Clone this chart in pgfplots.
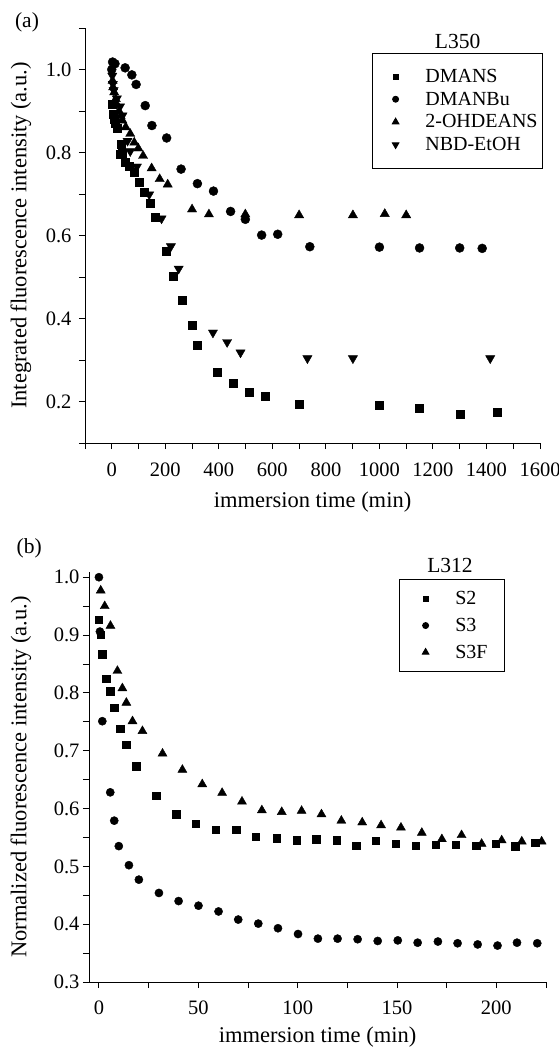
\documentclass[border=0pt]{standalone}
\usepackage{fontspec}
\setmainfont{Liberation Serif}
\usepackage{pgfplots}
\pgfplotsset{compat=1.18}
\begin{document}
\begin{tikzpicture}[x=1pt,y=1pt]
\useasboundingbox (0,0) rectangle (559,-1047);
\pgfplotsset{
  every axis/.append style={
    scale only axis, clip=false,
    axis x line*=bottom, axis y line*=left,
    axis line style={line width=0.9pt, -},
    every tick/.style={line width=0.9pt, black},
    tick align=outside,
    major tick length=6pt, minor tick length=6pt,
    font=\fontsize{22.5}{26}\selectfont,
    tick label style={font=\fontsize{20.5}{24}\selectfont},
    /pgf/number format/assume math mode=true,
    /pgf/number format/1000 sep={},
    legend cell align=left,
  },
}
% ---------------- panel (a)
\begin{axis}[
  at={(85pt,-443pt)}, anchor=south west,
  width=455pt, height=415pt,
  xmin=-100, xmax=1600, ymin=0.1, ymax=1.1,
  xtick={0,200,400,600,800,1000,1200,1400,1600},
  minor xtick={-100,100,300,500,700,900,1100,1300,1500},
  ytick={0.2,0.4,0.6,0.8,1.0},
  minor ytick={0.1,0.3,0.5,0.7,0.9,1.1},
  yticklabel style={xshift=-4pt, /pgf/number format/.cd, fixed, fixed zerofill, precision=1},
  xticklabel style={yshift=-10pt},
  xlabel={immersion time (min)},
  ylabel={Integrated fluorescence intensity (a.u.)},
  xlabel style={at={(axis description cs:0.5,-0.143)}, anchor=center},
  ylabel style={at={(axis description cs:-0.1407,0.5)}, anchor=center},
  legend image code/.code={\path (-19.7pt,0pt) (27.3pt,0pt); \draw[#1] plot coordinates {(0pt,0pt)};},
  legend style={at={(rel axis cs:0.6308,0.9405)}, anchor=north west, draw=black, line width=0.9pt,
    inner xsep=3pt, inner ysep=14pt, row sep=4pt, font=\fontsize{20}{23}\selectfont,
    nodes={inner sep=2pt}},
]
\addlegendimage{only marks, mark=square*, mark size=2.5pt, black}
\addlegendentry{\makebox[100pt][l]{DMANS}}
\addlegendimage{only marks, mark=*, mark size=3pt, black}
\addlegendentry{DMANBu}
\addlegendimage{only marks, mark=triangle*, mark size=3.8pt, black}
\addlegendentry{2-OHDEANS}
\addlegendimage{only marks, mark=triangle*, mark size=3.8pt, black, mark options={rotate=180}}
\addlegendentry{NBD-EtOH}

\addplot[forget plot, only marks, mark=square*, mark size=4pt, black] coordinates {
(3,0.917)(5,0.893)(9,0.881)(12,0.87)(21,0.858)(31,0.796)(34,0.819)(40,0.798)(52,0.776)
(65,0.768)(84,0.752)(102,0.729)(121,0.705)(142,0.679)(161,0.643)(202,0.562)(231,0.503)
(262,0.445)(299,0.383)(321,0.335)(393,0.271)(452,0.243)(513,0.222)(574,0.212)(702,0.194)
(1000,0.19)(1150,0.185)(1300,0.17)(1440,0.174)};
\addplot[forget plot, only marks, mark=*, mark size=4.5pt, black] coordinates {
(0,1.0)(3,1.018)(12,1.014)(50,1.004)(75,0.987)(91,0.964)(125,0.913)(150,0.865)(205,0.835)
(259,0.76)(320,0.725)(380,0.707)(444,0.658)(499,0.639)(560,0.601)(620,0.603)(740,0.573)
(1000,0.572)(1150,0.570)(1300,0.570)(1384,0.569)};
\addplot[forget plot, only marks, mark=triangle*, mark size=5.3pt, black] coordinates {
(3,0.973)(5,0.957)(9,0.945)(15,0.929)(20,0.915)(27,0.9)(33,0.888)(40,0.877)(52,0.861)
(69,0.845)(84,0.824)(99,0.81)(117,0.792)(149,0.762)(179,0.736)(209,0.723)(300,0.663)
(363,0.651)(499,0.651)(700,0.649)(901,0.649)(1020,0.652)(1100,0.649)};
\addplot[forget plot, only marks, mark=triangle*, mark size=5.3pt, black, mark options={rotate=180}] coordinates {
(2,0.985)(4,0.965)(7,0.95)(19,0.93)(31,0.911)(40,0.889)(59,0.828)(69,0.803)(94,0.766)
(140,0.699)(186,0.641)(221,0.574)(250,0.52)(378,0.366)(431,0.343)(481,0.318)(731,0.304)
(901,0.304)(1414,0.304)};
\node[anchor=center, font=\fontsize{21.5}{25}\selectfont] at (rel axis cs:0.819,0.9687) {L350};
\node[anchor=center, font=\fontsize{21.5}{25}\selectfont] at (rel axis cs:-0.1275,1.0145) {(a)};
\end{axis}
% ---------------- panel (b)
\begin{axis}[
  at={(89pt,-982pt)}, anchor=south west,
  width=457pt, height=410pt,
  xmin=-5, xmax=225, ymin=0.3, ymax=1.009,
  xtick={0,50,100,150,200},
  minor xtick={25,75,125,175,225},
  ytick={0.3,0.4,0.5,0.6,0.7,0.8,0.9,1.0},
  minor ytick={0.35,0.45,0.55,0.65,0.75,0.85,0.95},
  yticklabel style={/pgf/number format/.cd, fixed, fixed zerofill, precision=1},
  xticklabel style={yshift=-9pt},
  xlabel={immersion time (min)},
  ylabel={Normalized fluorescence intensity (a.u.)},
  xlabel style={at={(axis description cs:0.5,-0.134)}, anchor=center},
  ylabel style={at={(axis description cs:-0.1488,0.5)}, anchor=center},
  legend image code/.code={\path (-22.4pt,0pt) (27.3pt,0pt); \draw[#1] plot coordinates {(0pt,0pt)};},
  legend style={at={(rel axis cs:0.679,0.983)}, anchor=north west, draw=black, line width=0.9pt,
    inner xsep=3pt, inner ysep=10pt, row sep=8pt, font=\fontsize{20}{23}\selectfont,
    nodes={inner sep=2pt}},
]
\addlegendimage{only marks, mark=square*, mark size=2.5pt, black}
\addlegendentry{\makebox[43.7pt][l]{S2}}
\addlegendimage{only marks, mark=*, mark size=3pt, black}
\addlegendentry{S3}
\addlegendimage{only marks, mark=triangle*, mark size=3.8pt, black}
\addlegendentry{S3F}

\addplot[forget plot, only marks, mark=square*, mark size=3.7pt, black] coordinates {
(0,0.927)(0.9,0.901)(1.7,0.867)(3.7,0.824)(5.7,0.803)(7.7,0.774)(10.8,0.738)(13.8,0.71)
(18.8,0.673)(28.9,0.622)(38.9,0.59)(48.8,0.574)(58.9,0.563)(69,0.563)(79,0.551)(89.4,0.549)
(99.4,0.545)(109.4,0.547)(119.6,0.545)(129.4,0.536)(139.3,0.544)(149.4,0.539)(159.4,0.536)
(169.6,0.537)(179.7,0.537)(189.8,0.536)(199.6,0.539)(209.4,0.535)(219.6,0.541)};
\addplot[forget plot, only marks, mark=*, mark size=4.1pt, black] coordinates {
(0,1.0)(0.5,0.906)(1.7,0.751)(5.7,0.628)(7.7,0.579)(10,0.535)(15.1,0.502)(20.1,0.477)
(30.2,0.454)(40.1,0.44)(50.1,0.432)(60.2,0.422)(70.1,0.408)(80.2,0.401)(90.1,0.393)
(100.2,0.383)(110.2,0.375)(120.1,0.375)(130.2,0.374)(140.3,0.371)(150.4,0.372)(160.4,0.368)
(170.6,0.37)(180.5,0.367)(190.6,0.365)(200.6,0.363)(210.4,0.368)(220.6,0.367)};
\addplot[forget plot, only marks, mark=triangle*, mark size=5.2pt, black] coordinates {
(0.9,0.977)(2.9,0.95)(5.8,0.916)(9.3,0.838)(11.8,0.808)(13.8,0.783)(16.9,0.751)(21.9,0.734)
(32,0.695)(42,0.667)(52,0.642)(62,0.627)(72,0.612)(82,0.597)(92,0.594)(102,0.596)(112,0.59)
(122,0.579)(132.5,0.576)(142,0.571)(152,0.567)(162.5,0.558)(172.6,0.547)(182.5,0.554)
(192.6,0.539)(202.7,0.545)(212.8,0.543)(222.8,0.543)};
\node[anchor=center, font=\fontsize{21.5}{25}\selectfont] at (rel axis cs:0.79,1.017) {L312};
\node[anchor=center, font=\fontsize{21.5}{25}\selectfont] at (rel axis cs:-0.131,1.0585) {(b)};
\end{axis}
\end{tikzpicture}
\end{document}
